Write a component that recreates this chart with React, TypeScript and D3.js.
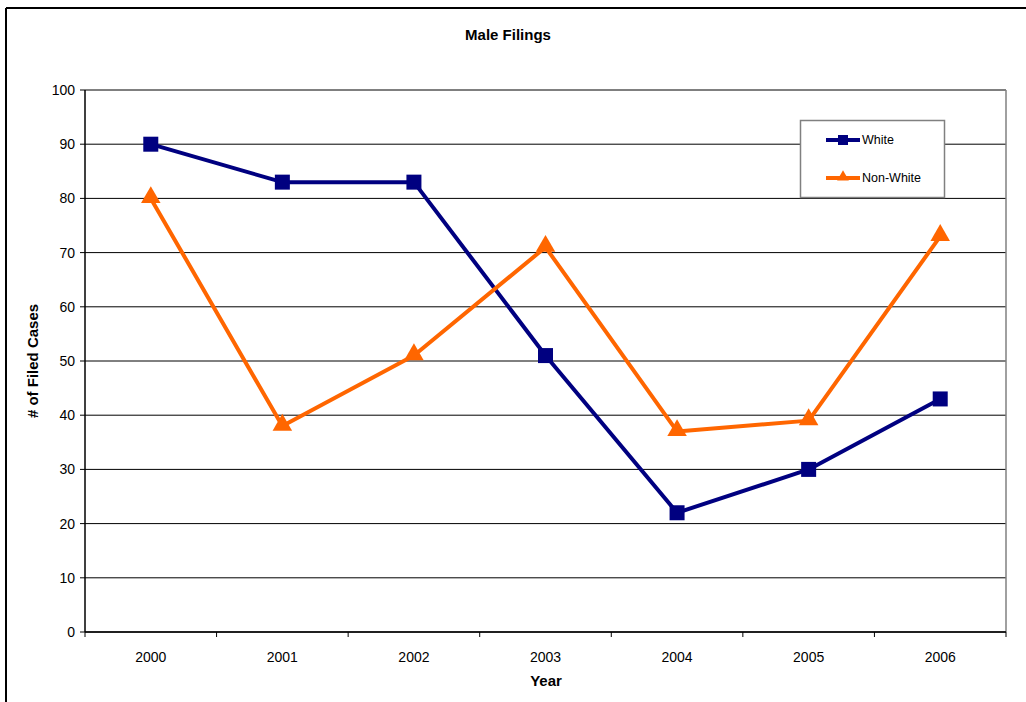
import React from "react";
import * as d3 from "d3";

const years = ["2000", "2001", "2002", "2003", "2004", "2005", "2006"];
const whiteValues = [90, 83, 83, 51, 22, 30, 43];
const nonWhiteValues = [80, 38, 51, 71, 37, 39, 73];
const yTicks = [0, 10, 20, 30, 40, 50, 60, 70, 80, 90, 100];

const W = 1026;
const H = 702;
const plot = { left: 85, right: 1006, top: 90, bottom: 632 };
const font = "Liberation Sans, Arial, sans-serif";
const navy = "#000080";
const orange = "#FF6600";

export default function App() {
  const x = d3
    .scaleBand<string>()
    .domain(years)
    .range([plot.left, plot.right])
    .paddingInner(0)
    .paddingOuter(0);
  const y = d3.scaleLinear().domain([0, 100]).range([plot.bottom, plot.top]);
  const cx = (yr: string) => (x(yr) as number) + x.bandwidth() / 2;

  const line = d3
    .line<number>()
    .x((_, i) => cx(years[i]))
    .y((d) => y(d));

  const tri = d3.symbol().type(d3.symbolTriangle).size(165)();
  const boundaries = years.map((yr) => x(yr) as number).concat([plot.right]);

  return (
    <svg
      width={W}
      height={H}
      style={{ position: "absolute", left: 0, top: 0, display: "block" }}
      fontFamily={font}
    >
      <rect x={0} y={0} width={W} height={H} fill="#fff" />
      {/* outer chart frame */}
      <line x1={6} y1={8} x2={W} y2={8} stroke="#000" strokeWidth={2} />
      <line x1={6} y1={8} x2={6} y2={H} stroke="#000" strokeWidth={2} />

      <text x={508} y={40} textAnchor="middle" fontSize={15} fontWeight="bold">
        Male Filings
      </text>

      {/* gridlines */}
      {yTicks.map((t) => (
        <line
          key={t}
          x1={plot.left}
          x2={plot.right}
          y1={y(t)}
          y2={y(t)}
          stroke="#000"
          strokeWidth={1}
        />
      ))}
      {/* plot area right edge */}
      <line
        x1={plot.right}
        x2={plot.right}
        y1={plot.top}
        y2={plot.bottom}
        stroke="#808080"
        strokeWidth={1.5}
      />

      {/* y axis */}
      <line x1={plot.left} x2={plot.left} y1={plot.top} y2={plot.bottom} stroke="#000" strokeWidth={1.5} />
      {yTicks.map((t) => (
        <g key={t}>
          <line x1={plot.left - 5} x2={plot.left} y1={y(t)} y2={y(t)} stroke="#000" />
          <text x={plot.left - 10} y={y(t)} dy="0.35em" textAnchor="end" fontSize={14}>
            {t}
          </text>
        </g>
      ))}

      {/* x axis */}
      <line x1={plot.left} x2={plot.right} y1={plot.bottom} y2={plot.bottom} stroke="#000" strokeWidth={1.5} />
      {boundaries.map((b, i) => (
        <line key={i} x1={b} x2={b} y1={plot.bottom} y2={plot.bottom + 5} stroke="#000" />
      ))}
      {years.map((yr) => (
        <text key={yr} x={cx(yr)} y={662} textAnchor="middle" fontSize={14}>
          {yr}
        </text>
      ))}

      <text x={546} y={686} textAnchor="middle" fontSize={15} fontWeight="bold">
        Year
      </text>
      <text
        transform={`translate(38,361) rotate(-90)`}
        textAnchor="middle"
        fontSize={15}
        fontWeight="bold"
      >
        # of Filed Cases
      </text>

      {/* series */}
      <path d={line(whiteValues) ?? ""} fill="none" stroke={navy} strokeWidth={4} strokeLinejoin="round" />
      <path d={line(nonWhiteValues) ?? ""} fill="none" stroke={orange} strokeWidth={4} strokeLinejoin="round" />
      {whiteValues.map((v, i) => (
        <rect key={i} x={cx(years[i]) - 7.5} y={y(v) - 7.5} width={15} height={15} fill={navy} />
      ))}
      {nonWhiteValues.map((v, i) => (
        <path key={i} d={tri ?? ""} transform={`translate(${cx(years[i])},${y(v) - 1})`} fill={orange} />
      ))}

      {/* legend */}
      <rect x={800.5} y={120.5} width={144} height={77} fill="#fff" stroke="#808080" strokeWidth={1.5} />
      <line x1={826} x2={860} y1={140} y2={140} stroke={navy} strokeWidth={4} />
      <rect x={838} y={135} width={10} height={10} fill={navy} />
      <text x={862} y={140} dy="0.35em" fontSize={12.5}>
        White
      </text>
      <line x1={826} x2={860} y1={178} y2={178} stroke={orange} strokeWidth={4} />
      <path d={d3.symbol().type(d3.symbolTriangle).size(60)() ?? ""} transform="translate(843,177)" fill={orange} />
      <text x={862} y={178} dy="0.35em" fontSize={12.5}>
        Non-White
      </text>
    </svg>
  );
}
